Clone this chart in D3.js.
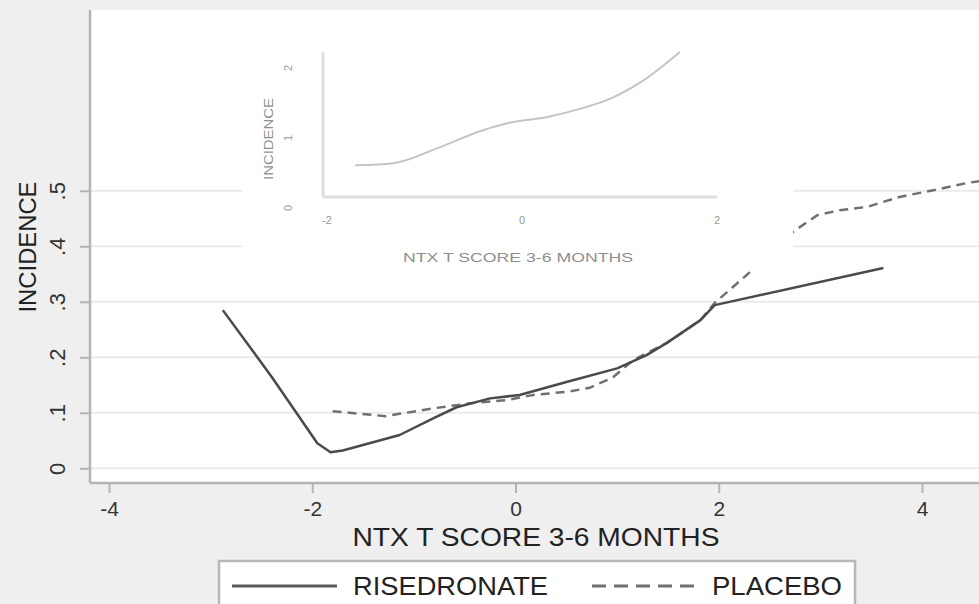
<!DOCTYPE html>
<html>
<head>
<meta charset="utf-8">
<script src="https://cdn.jsdelivr.net/npm/d3@7"></script>
<style>
  html, body { margin: 0; padding: 0; background: #efefef; }
  svg { display: block; font-family: "Liberation Sans", Arial, sans-serif; }
</style>
</head>
<body>
<div id="chart"></div>
<script>
// Main plot: incidence by NTX T score, two treatment groups
const xTicks = [-4, -2, 0, 2, 4];
const yTicks = [0, 0.1, 0.2, 0.3, 0.4, 0.5];
const yTickLabels = ["0", ".1", ".2", ".3", ".4", ".5"];

const risedronateX = [-2.88, -2.4, -1.95, -1.82, -1.7, -1.14, -0.81, -0.58, -0.25, 0.04, 0.51, 1.0, 1.29, 1.49, 1.82, 1.96, 3.62];
const risedronateY = [0.285, 0.165, 0.045, 0.029, 0.032, 0.060, 0.090, 0.110, 0.126, 0.132, 0.156, 0.180, 0.204, 0.226, 0.267, 0.294, 0.361];

const placeboX = [-1.80, -1.28, -0.81, -0.45, -0.08, 0.17, 0.51, 0.73, 0.96, 1.16, 1.49, 1.82, 1.96, 2.31, 2.73, 2.97, 3.19, 3.46, 3.78, 4.11, 4.44, 4.62];
const placeboY = [0.103, 0.094, 0.108, 0.117, 0.123, 0.132, 0.138, 0.145, 0.164, 0.195, 0.226, 0.267, 0.298, 0.354, 0.426, 0.456, 0.465, 0.471, 0.489, 0.501, 0.514, 0.519];

// Inset: pooled curve
const insetXTicks = [-2, 0, 2];
const insetYTicks = [0, 1, 2];
const insetX = [-1.68, -1.29, -0.81, -0.37, -0.12, 0.29, 0.66, 0.90, 1.24, 1.65];
const insetY = [0.61, 0.64, 0.87, 1.11, 1.21, 1.30, 1.43, 1.54, 1.79, 2.23];

const seriesNames = ["RISEDRONATE", "PLACEBO"];
const xTitle = "NTX  T SCORE 3-6 MONTHS";
const yTitle = "INCIDENCE";

const width = 979, height = 604;
const plot = { left: 90, top: 10, right: 1000, bottom: 483 };

const svg = d3.select("#chart")
  .append("svg")
    .attr("width", width)
    .attr("height", height);

const x = d3.scaleLinear().domain([-4, 4]).range([109, 922]);
const y = d3.scaleLinear().domain([0, 0.5]).range([468.3, 190.8]);

// Plot region
svg.append("rect")
    .attr("x", plot.left).attr("y", plot.top)
    .attr("width", plot.right - plot.left).attr("height", plot.bottom - plot.top)
    .attr("fill", "#ffffff");

svg.append("clipPath").attr("id", "plotclip")
  .append("rect")
    .attr("x", plot.left).attr("y", plot.top)
    .attr("width", plot.right - plot.left).attr("height", plot.bottom - plot.top);

// Grid lines
svg.append("g")
  .selectAll("line")
  .data(yTicks)
  .enter()
  .append("line")
    .attr("x1", plot.left).attr("x2", plot.right)
    .attr("y1", d => y(d)).attr("y2", d => y(d))
    .attr("stroke", "#ebebeb")
    .attr("stroke-width", 2);

// Y axis
const yAxis = svg.append("g")
    .attr("transform", "translate(" + plot.left + ",0)")
    .call(d3.axisLeft(y).tickValues(yTicks).tickSize(10).tickPadding(0).tickFormat(""));
yAxis.select(".domain").remove();
yAxis.selectAll(".tick line").attr("stroke", "#b4b4b4").attr("stroke-width", 2);
yAxis.selectAll(".tick")
  .append("text")
    .attr("transform", "translate(-33,0) rotate(-90)")
    .attr("text-anchor", "middle")
    .attr("dy", "0.35em")
    .attr("fill", "#333")
    .attr("stroke", "none")
    .style("font-size", "22px")
    .text((d, i) => yTickLabels[i]);

// X axis
const xAxis = svg.append("g")
    .attr("transform", "translate(0," + plot.bottom + ")")
    .call(d3.axisBottom(x).tickValues(xTicks).tickSize(10).tickPadding(8).tickFormat(d => String(d)));
xAxis.select(".domain").remove();
xAxis.selectAll(".tick line").attr("stroke", "#b4b4b4").attr("stroke-width", 2);
xAxis.selectAll(".tick text")
    .attr("fill", "#333")
    .style("font-size", "21px");

// Axis lines
svg.append("line")
    .attr("x1", plot.left).attr("x2", plot.left)
    .attr("y1", plot.top).attr("y2", plot.bottom)
    .attr("stroke", "#b4b4b4").attr("stroke-width", 2.5);
svg.append("line")
    .attr("x1", plot.left).attr("x2", plot.right)
    .attr("y1", plot.bottom).attr("y2", plot.bottom)
    .attr("stroke", "#b4b4b4").attr("stroke-width", 2.5);

// Axis titles
svg.append("text")
    .attr("x", 536).attr("y", 546)
    .attr("text-anchor", "middle")
    .attr("textLength", 367).attr("lengthAdjust", "spacingAndGlyphs")
    .attr("fill", "#222")
    .style("font-size", "25px")
    .text(xTitle);
svg.append("text")
    .attr("transform", "translate(36,247) rotate(-90)")
    .attr("text-anchor", "middle")
    .attr("textLength", 131).attr("lengthAdjust", "spacingAndGlyphs")
    .attr("fill", "#222")
    .style("font-size", "24px")
    .text(yTitle);

// Curves
const line = d3.line()
    .x(d => x(d[0]))
    .y(d => y(d[1]));

const curves = svg.append("g").attr("clip-path", "url(#plotclip)");
curves.append("path")
    .datum(placeboX.map((v, i) => [v, placeboY[i]]))
    .attr("d", line)
    .attr("fill", "none")
    .attr("stroke", "#707070")
    .attr("stroke-width", 2.5)
    .attr("stroke-dasharray", "9,6");
curves.append("path")
    .datum(risedronateX.map((v, i) => [v, risedronateY[i]]))
    .attr("d", line)
    .attr("fill", "none")
    .attr("stroke", "#4a4a4a")
    .attr("stroke-width", 2.5)
    .attr("stroke-linejoin", "round");

// Inset graph, drawn over the main plot
const ix = d3.scaleLinear().domain([-2, 2]).range([324, 714]);
const iy = d3.scaleLinear().domain([0, 2]).range([208, 68]);
const inset = svg.append("g");

inset.append("rect")
    .attr("x", 243).attr("y", 25)
    .attr("width", 550).attr("height", 245)
    .attr("fill", "#ffffff");

inset.append("line")
    .attr("x1", 323).attr("x2", 323).attr("y1", 52).attr("y2", 197)
    .attr("stroke", "#dedede").attr("stroke-width", 3);
inset.append("line")
    .attr("x1", 323).attr("x2", 717).attr("y1", 197).attr("y2", 197)
    .attr("stroke", "#dedede").attr("stroke-width", 3);

inset.selectAll(".iylab")
  .data(insetYTicks)
  .enter()
  .append("text")
    .attr("class", "iylab")
    .attr("transform", d => "translate(292," + iy(d) + ") rotate(-90)")
    .attr("text-anchor", "middle")
    .attr("fill", "#9a9a9a")
    .style("font-size", "11px")
    .text(d => d);

inset.selectAll(".ixlab")
  .data(insetXTicks)
  .enter()
  .append("text")
    .attr("class", "ixlab")
    .attr("x", d => ix(d) + 3).attr("y", 224)
    .attr("text-anchor", "middle")
    .attr("fill", "#9a9a9a")
    .style("font-size", "11px")
    .text(d => String(d));

inset.append("text")
    .attr("x", 518).attr("y", 262)
    .attr("text-anchor", "middle")
    .attr("textLength", 230).attr("lengthAdjust", "spacingAndGlyphs")
    .attr("fill", "#8f8f8f")
    .style("font-size", "13px")
    .text("NTX T SCORE 3-6 MONTHS");
inset.append("text")
    .attr("transform", "translate(273,139) rotate(-90)")
    .attr("text-anchor", "middle")
    .attr("textLength", 82).attr("lengthAdjust", "spacingAndGlyphs")
    .attr("fill", "#8f8f8f")
    .style("font-size", "13px")
    .text(yTitle);

const insetLine = d3.line()
    .x(d => ix(d[0]))
    .y(d => iy(d[1]))
    .curve(d3.curveMonotoneX);
inset.append("path")
    .datum(insetX.map((v, i) => [v, insetY[i]]))
    .attr("d", insetLine)
    .attr("fill", "none")
    .attr("stroke", "#c4c4c4")
    .attr("stroke-width", 2);

// Legend
const legend = svg.append("g");
legend.append("rect")
    .attr("x", 219).attr("y", 561)
    .attr("width", 636).attr("height", 70)
    .attr("fill", "#ffffff")
    .attr("stroke", "#b8b8b8")
    .attr("stroke-width", 2.5);
legend.append("line")
    .attr("x1", 232).attr("x2", 337).attr("y1", 586).attr("y2", 586)
    .attr("stroke", "#5a5a5a").attr("stroke-width", 3);
legend.append("line")
    .attr("x1", 592).attr("x2", 695).attr("y1", 586).attr("y2", 586)
    .attr("stroke", "#707070").attr("stroke-width", 3)
    .attr("stroke-dasharray", "14,8");
legend.append("text")
    .attr("x", 353).attr("y", 595)
    .attr("textLength", 195).attr("lengthAdjust", "spacingAndGlyphs")
    .attr("fill", "#222")
    .style("font-size", "25px")
    .text(seriesNames[0]);
legend.append("text")
    .attr("x", 712).attr("y", 595)
    .attr("textLength", 130).attr("lengthAdjust", "spacingAndGlyphs")
    .attr("fill", "#222")
    .style("font-size", "25px")
    .text(seriesNames[1]);
</script>
</body>
</html>
